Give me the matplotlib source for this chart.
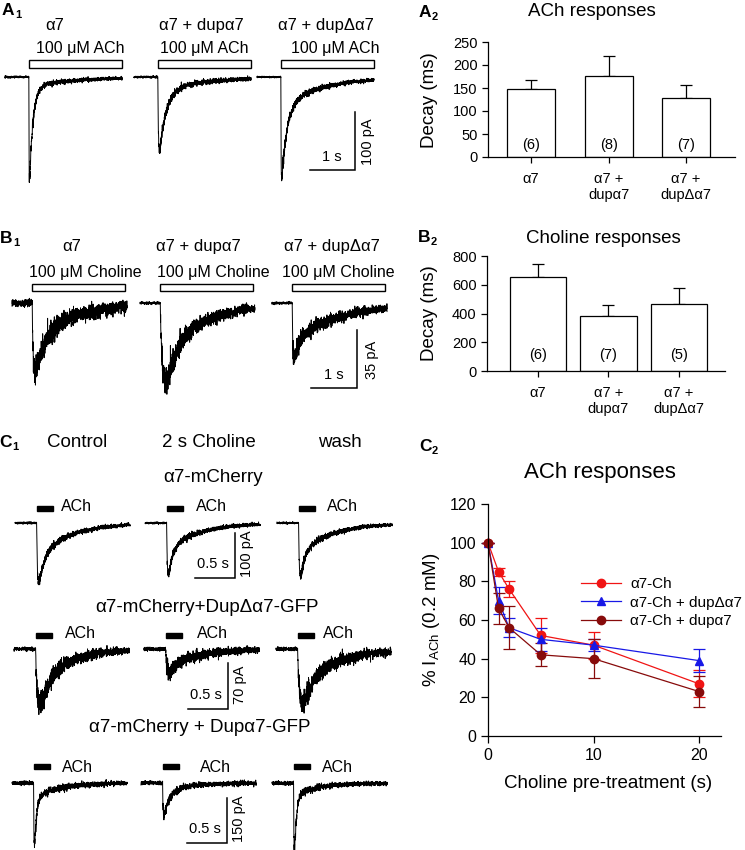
import numpy as np
import matplotlib
matplotlib.use('Agg')
import matplotlib.pyplot as plt
from matplotlib.patches import Rectangle
from matplotlib.lines import Line2D

plt.rcParams['font.family'] = ['Liberation Sans', 'DejaVu Sans']
plt.rcParams['mathtext.fontset'] = 'custom'
plt.rcParams['mathtext.rm'] = 'Liberation Sans'
plt.rcParams['mathtext.bf'] = 'Liberation Sans:bold'
plt.rcParams['axes.linewidth'] = 0.9

# ---------------- data ----------------
# A1: currents evoked by 100 uM ACh (pA, s)
a1_titles = ['α7', 'α7 + dupα7', 'α7 + dupΔα7']
a1_amp = [177, 126, 176]
a1_rise = [0.004, 0.012, 0.005]
a1_tau_fast = [0.08, 0.15, 0.12]
a1_tau_slow = [1.0, 1.0, 0.9]
a1_frac_slow = [0.08, 0.15, 0.25]
a1_noise = [0.8, 0.9, 0.6]
a1_noise_k = [0.4, 0.4, 0.38]
a1_dur, a1_on, a1_stim = 2.6, 0.53, 2.08

# B1: currents evoked by 100 uM choline
b1_amp = [42, 47, 34]
b1_rise = [0.02, 0.06, 0.015]
b1_tau_fast = [0.2, 0.2, 0.07]
b1_tau_slow = [0.9, 0.9, 1.0]
b1_frac_slow = [0.4, 0.4, 0.5]
b1_noise = [1.0, 0.35, 0.35]
b1_noise_k = [0.5, 0.5, 0.45]
b1_dur, b1_on, b1_stim = 2.5, 0.44, 2.02

# A2 / B2: decay time constants
bar_groups = ['α7', 'α7 +\ndupα7', 'α7 +\ndupΔα7']
a2_mean = [148, 177, 128]
a2_sem = [19, 43, 29]
a2_n = [6, 8, 7]
b2_mean = [656, 380, 464]
b2_sem = [88, 81, 111]
b2_n = [6, 7, 5]

# C1: ACh responses, control / after 2 s choline / wash
c1_conditions = ['Control', '2 s Choline', 'wash']
c1_groups = ['α7-mCherry', 'α7-mCherry+DupΔα7-GFP', 'α7-mCherry + Dupα7-GFP']
c1_amp = [[131, 113, 118], [82, 35, 82], [213, 107, 223]]
c1_rise = [[0.012, 0.01, 0.01], [0.025, 0.02, 0.03], [0.005, 0.006, 0.005]]
c1_tau_fast = [[0.06, 0.05, 0.05], [0.1, 0.08, 0.1], [0.025, 0.07, 0.025]]
c1_tau_slow = [[0.4, 0.4, 0.4], [0.35, 0.4, 0.4], [0.3, 0.3, 0.3]]
c1_frac_slow = [[0.4, 0.35, 0.4], [0.5, 0.5, 0.5], [0.15, 0.22, 0.12]]
c1_noise = [1.0, 1.4, 3.0]
c1_noise_k = [0.4, 0.8, 0.5]
c1_scale_pA = [100, 70, 150]
c1_dur, c1_on, c1_stim = 1.44, 0.27, 0.21

# C2: % I_ACh after choline pre-treatment
c2_x = [0, 1, 2, 5, 10, 20]
c2_labels = ['α7-Ch', 'α7-Ch + dupΔα7', 'α7-Ch + dupα7']
c2_ch = [100, 85, 76, 52, 47, 27]
c2_ch_err = [0, 2, 4, 9, 7, 7]
c2_dupd = [100, 70, 56, 50, 47, 39]
c2_dupd_err = [0, 7, 5, 6, 3, 6]
c2_dup = [100, 66, 56, 42, 40, 23]
c2_dup_err = [0, 8, 11, 6, 10, 8]

# ---------------- figure ----------------
W, H = 745, 850
fig = plt.figure(figsize=(W / 100, H / 100), dpi=100)
rng = np.random.default_rng(3)


def px_axes(x0, y0, x1, y1):
    return fig.add_axes([x0 / W, 1 - y1 / H, (x1 - x0) / W, (y1 - y0) / H])


ov = px_axes(0, 0, W, H)
ov.set_xlim(0, W)
ov.set_ylim(H, 0)
ov.axis('off')


def txt(x, y, s, size, **kw):
    ov.text(x, y, s, fontsize=size, ha=kw.pop('ha', 'center'),
            va=kw.pop('va', 'center'), **kw)


def panel_label(x, y, letter, sub):
    txt(x, y, letter, 12.5, fontweight='bold')
    txt(x + 10, y + 5, sub, 8, fontweight='bold')


def synth(dur, t_on, amp, rise, tau_f, tau_s, frac_s, nb, nk, n=1400):
    t = np.linspace(0, dur, n)
    s = np.clip(t - t_on, 0, None)
    shape = (1 - np.exp(-s / rise)) * ((1 - frac_s) * np.exp(-s / tau_f)
                                        + frac_s * np.exp(-s / tau_s))
    shape = shape / shape.max()
    sd = nb + nk * np.sqrt(amp * shape)
    return t, -amp * shape + rng.normal(0, 1, n) * sd


def trace_row(y0, y1, base, px_s, px_pA, starts, dur, t_on, stim,
              amp, rise, tf, ts, fs, nb, nk, stim_bottom, stim_h, filled):
    ax = px_axes(0, y0, 400, y1)
    ax.set_xlim(0, 400 / px_s)
    ax.set_ylim(-(y1 - base) / px_pA, (base - y0) / px_pA)
    ax.axis('off')
    for i, xs in enumerate(starts):
        t0 = xs / px_s
        t, cur = synth(dur, t_on, amp[i], rise[i], tf[i], ts[i], fs[i], nb[i], nk[i])
        ax.plot(t + t0, cur, color='black', lw=0.7, clip_on=False)
        ax.add_patch(Rectangle((t0 + t_on, (base - stim_bottom) / px_pA), stim,
                               stim_h / px_pA, facecolor='black' if filled else 'white',
                               edgecolor='black', lw=1, clip_on=False))
    return ax


def scale_bar(ax, x_px, y_px, base, px_s, px_pA, t_len, i_len):
    x = x_px / px_s
    y = (base - y_px) / px_pA
    ax.plot([x - t_len, x, x], [y, y, y + i_len], color='black', lw=1.1,
            clip_on=False, solid_joinstyle='miter')


# ---- A1 ----
panel_label(8, 10, 'A', '1')
for s, xc in zip(a1_titles, [55, 201, 326]):
    txt(xc, 25, s, 12)
for xc in [80, 204, 335]:
    txt(xc, 48, '100 μM ACh', 11.5)
ax = trace_row(45, 190, 77, 45, 0.58, [5, 134, 257], a1_dur, a1_on, a1_stim,
               a1_amp, a1_rise, a1_tau_fast, a1_tau_slow, a1_frac_slow,
               a1_noise, a1_noise_k, 68, 8, False)
scale_bar(ax, 355, 170, 77, 45, 0.58, 1, 100)
txt(332, 157, '1 s', 10.5)
txt(368, 142, '100 pA', 10.5, rotation=90)

# ---- B1 ----
panel_label(6, 238, 'B', '1')
for s, xc in zip(a1_titles, [72, 198, 332]):
    txt(xc, 246, s, 12)
for xc in [85, 213, 338]:
    txt(xc, 273, '100 μM Choline', 11.5)
px_b = 58 / 35
ax = trace_row(280, 395, 303, 46, px_b, [12, 140, 272], b1_dur, b1_on, b1_stim,
               b1_amp, b1_rise, b1_tau_fast, b1_tau_slow, b1_frac_slow,
               b1_noise, b1_noise_k, 291, 7, False)
scale_bar(ax, 357, 388, 303, 46, px_b, 1, 35)
txt(334, 375, '1 s', 10.5)
txt(372, 360, '35 pA', 10.5, rotation=90)

# ---- A2 / B2 ----
def bar_panel(box, means, sems, ns, n_y, ymax, ystep, xlim, width):
    ax = px_axes(*box)
    x = np.arange(len(means))
    ax.bar(x, means, width=width, color='white', edgecolor='black', lw=0.9, zorder=2)
    ax.errorbar(x, means, yerr=[np.zeros(len(sems)), sems], fmt='none',
                ecolor='black', elinewidth=0.9, capsize=4, capthick=0.9, zorder=1)
    for xi, n in zip(x, ns):
        ax.text(xi, n_y, f'({n})', ha='center', va='center', fontsize=10.5, zorder=3)
    ax.set_xlim(*xlim)
    ax.set_ylim(0, ymax)
    ax.set_yticks(np.arange(0, ymax + 1, ystep))
    ax.set_xticks(x)
    ax.set_xticklabels(bar_groups, fontsize=11)
    for sp in ['top', 'right']:
        ax.spines[sp].set_visible(False)
    ax.tick_params(direction='out', length=4, width=0.9, labelsize=10.5)
    ax.tick_params(axis='x', pad=7)
    return ax


panel_label(425, 12, 'A', '2')
txt(592, 11, 'ACh responses', 13.5)
bar_panel((488, 42, 735, 157), a2_mean, a2_sem, a2_n, 26, 250, 50, (-0.555, 2.63), 0.62)
txt(429, 100, 'Decay (ms)', 13.5, rotation=90)

panel_label(424, 237, 'B', '2')
txt(603, 238, 'Choline responses', 13.5)
bar_panel((487, 256, 725, 371), b2_mean, b2_sem, b2_n, 111, 800, 200, (-0.72, 2.65), 0.8)
txt(430, 313, 'Decay (ms)', 13.5, rotation=90)

# ---- C1 ----
panel_label(5, 442, 'C', '1')
for s, xc in zip(c1_conditions, [77, 209, 340]):
    txt(xc, 442, s, 13.5)
row_layout = [
    # y0, y1, base, px_pA, starts, stim bottom, scale corner, ACh x, ACh y, group y
    (500, 590, 523, 0.45, [15, 145, 277], 511, (235, 578), [76, 211, 342], 506, 477),
    (625, 715, 649, 46 / 70, [14, 144, 276], 638, (228, 709), [80, 212, 338], 633, 607),
    (755, 850, 783, 0.30, [12, 141, 272], 769, (227, 843), [77, 215, 337], 767, 728),
]
group_x = [213, 207, 200]
for r, (y0, y1, base, ppa, starts, sb, corner, ach_x, ach_y, gy) in enumerate(row_layout):
    txt(group_x[r], gy, c1_groups[r], 13.5)
    ax = trace_row(y0, y1, base, 80, ppa, starts, c1_dur, c1_on, c1_stim,
                   c1_amp[r], c1_rise[r], c1_tau_fast[r], c1_tau_slow[r],
                   c1_frac_slow[r], [c1_noise[r]] * 3, [c1_noise_k[r]] * 3,
                   sb, 5, True)
    scale_bar(ax, corner[0], corner[1], base, 80, ppa, 0.5, c1_scale_pA[r])
    for xc in ach_x:
        txt(xc, ach_y, 'ACh', 11.5)
    txt(corner[0] - 22, corner[1] - 14, '0.5 s', 10.5)
    txt(corner[0] + 12, corner[1] - 24, f'{c1_scale_pA[r]} pA', 10.5, rotation=90)

# ---- C2 ----
panel_label(425, 446, 'C', '2')
txt(600, 472, 'ACh responses', 16)
ax = px_axes(488, 504, 721, 736)
colors = ['#f01414', '#1818e6', '#870b0b']
markers = ['o', '^', 'o']
series = [(c2_ch, c2_ch_err), (c2_dupd, c2_dupd_err), (c2_dup, c2_dup_err)]
for (y, e), c, m in zip(series, colors, markers):
    ax.errorbar(c2_x, y, yerr=e, color=c, marker=m, ms=6 if m == 'o' else 5.5,
                lw=0.9, elinewidth=0.9, capsize=4, capthick=0.9, clip_on=False)
ax.set_xlim(0, 233 / 10.55)
ax.set_ylim(0, 120)
ax.set_xticks([0, 10, 20])
ax.set_yticks(np.arange(0, 121, 20))
for sp in ['top', 'right']:
    ax.spines[sp].set_visible(False)
ax.tick_params(direction='out', length=5, width=0.9, labelsize=11.5)
handles = [Line2D([], [], color=c, marker=m, ms=6 if m == 'o' else 5.5, lw=0.9)
           for c, m in zip(colors, markers)]
ax.legend(handles, c2_labels, loc='upper left', bbox_to_anchor=(581 / W, 1 - 577 / H),
          bbox_transform=fig.transFigure, frameon=False, fontsize=11,
          handlelength=2.6, handletextpad=0.6, labelspacing=0.3,
          borderaxespad=0, borderpad=0)
txt(432, 620, '% I$_{\\mathregular{ACh}}$ (0.2 mM)', 13.5, rotation=90)
txt(608, 783, 'Choline pre-treatment (s)', 13.5)

fig.savefig('out.png', dpi=100)
